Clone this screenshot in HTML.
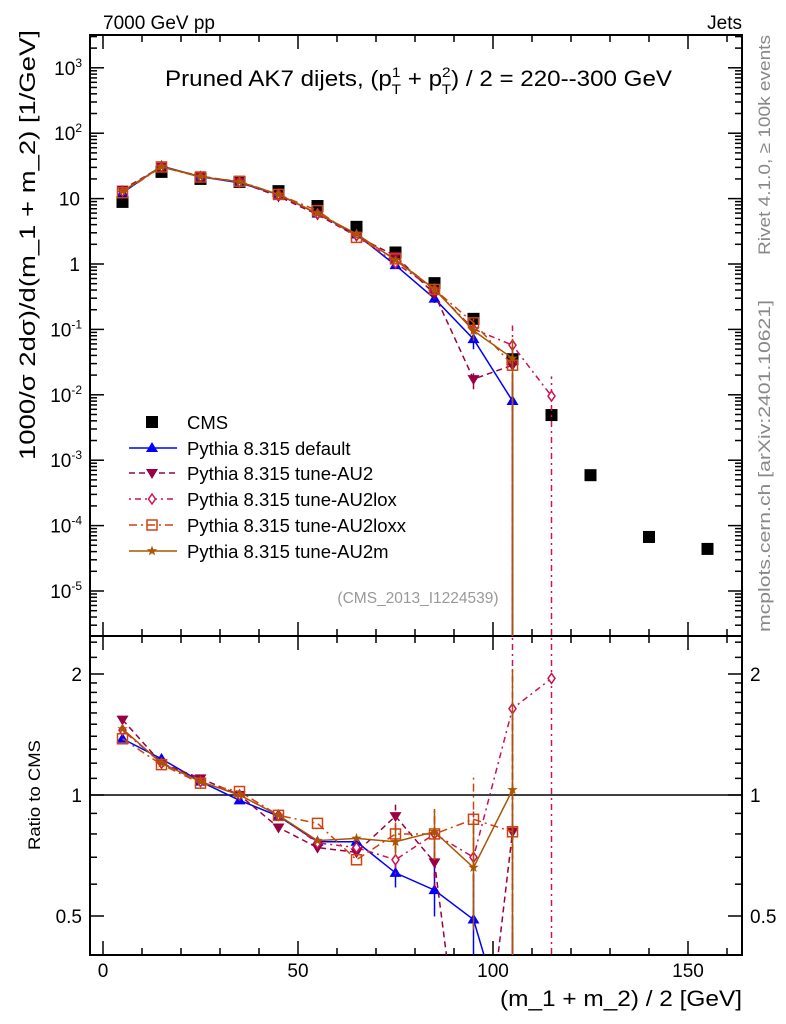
<!DOCTYPE html>
<html><head><meta charset="utf-8"><style>
html,body{margin:0;padding:0;background:#fff;width:786px;height:1024px;overflow:hidden;}
svg{display:block;font-family:"Liberation Sans",sans-serif;}
</style></head><body>
<svg id="c" width="786" height="1024" viewBox="0 0 786 1024" xmlns="http://www.w3.org/2000/svg">
<text x="103" y="29" font-size="19">7000 GeV pp</text>
<text x="742" y="29" font-size="19" text-anchor="end">Jets</text>
<text x="165" y="86" font-size="22" textLength="507" lengthAdjust="spacingAndGlyphs">Pruned AK7 dijets, (p<tspan font-size="14" dy="-9">1</tspan><tspan font-size="14" dx="-8" dy="17">T</tspan><tspan dy="-8"> + p</tspan><tspan font-size="14" dy="-9">2</tspan><tspan font-size="14" dx="-8" dy="17">T</tspan><tspan dy="-8">) / 2 = 220--300 GeV</tspan></text>
<text transform="translate(35,460) rotate(-90)" font-size="22" textLength="430" lengthAdjust="spacingAndGlyphs">1000/σ   2dσ)/d(m_1 + m_2) [1/GeV]</text>
<text transform="translate(40,850) rotate(-90)" font-size="17" textLength="110" lengthAdjust="spacingAndGlyphs">Ratio to CMS</text>
<text x="500" y="1006" font-size="22" textLength="242" lengthAdjust="spacingAndGlyphs">(m_1 + m_2) / 2 [GeV]</text>
<text transform="translate(770,255) rotate(-90)" font-size="17" fill="#888" textLength="220" lengthAdjust="spacingAndGlyphs">Rivet 4.1.0, ≥ 100k events</text>
<text transform="translate(770,632) rotate(-90)" font-size="17" fill="#888" textLength="332" lengthAdjust="spacingAndGlyphs">mcplots.cern.ch [arXiv:2401.10621]</text>
<text x="418" y="603" font-size="15.5" fill="#999" text-anchor="middle">(CMS_2013_I1224539)</text>
<g id="g"></g>
</svg>
<script>
const xs = [5,15,25,35,45,55,65,75,85,95,105,115,125,140,155];
const cms = [8.9,25.6,20,18,13,7.7,3.7,1.5,0.51,0.145,0.035,0.0049,0.00059,0.000067,0.000044];
const seriesNames = ["Pythia 8.315 default","Pythia 8.315 tune-AU2","Pythia 8.315 tune-AU2lox","Pythia 8.315 tune-AU2loxx","Pythia 8.315 tune-AU2m"];
const rDefault = [1.38,1.23,1.08,0.97,0.886,0.765,0.765,0.64,0.58,0.49,0.23];
const rAU2 = [1.54,1.2,1.10,1.0,0.83,0.74,0.72,0.886,0.68,0.12,0.81];
const rAU2lox = [1.45,1.2,1.08,1.0,0.89,0.76,0.74,0.69,0.80,0.70,1.64,1.95];
const rAU2loxx = [1.38,1.19,1.07,1.02,0.89,0.85,0.69,0.80,0.80,0.87,0.81];
const rAU2m = [1.46,1.2,1.08,1.0,0.89,0.77,0.78,0.765,0.81,0.66,1.03];
const relErr = [0.02,0.02,0.02,0.02,0.03,0.04,0.05,0.08,0.14,0.3,1.0,1.0];

const NS="http://www.w3.org/2000/svg";
const g=document.getElementById('g');
const L=90,R=742,T=35,MB=636,RB=955;
const X=v=>103+3.9*v;
const Ym=v=>264-65.4*Math.log10(v);
const Yr=v=>795-121*Math.log2(v);
function el(t,a,p){const e=document.createElementNS(NS,t);for(const k in a)e.setAttribute(k,a[k]);(p||g).appendChild(e);return e;}
const defs=el('defs',{});
const c1=el('clipPath',{id:'cm'},defs);el('rect',{x:L,y:T,width:R-L,height:MB-T},c1);
const c2=el('clipPath',{id:'cr'},defs);el('rect',{x:L,y:MB,width:R-L,height:RB-MB},c2);
let f=el('rect',{x:L,y:T,width:R-L,height:MB-T,fill:'none',stroke:'#000','stroke-width':2});


f=el('rect',{x:L,y:MB,width:R-L,height:RB-MB,fill:'none',stroke:'#000','stroke-width':2});


for(let v=0;v<=160;v+=10){const x=X(v);const len=v%50==0?14:7;
 for(const [y0,d] of [[T,1],[MB,-1],[MB,1],[RB,-1]]){el('line',{x1:x,x2:x,y1:y0,y2:y0+d*len,stroke:'#000','stroke-width':1.5});}
 if(v%50==0){const t=el('text',{x:x,y:977,'font-size':19,'text-anchor':'middle'});t.textContent=v;
 
 }}
const ylab=['10<tspan font-size="12" dy="-8">-5</tspan>','10<tspan font-size="12" dy="-8">-4</tspan>','10<tspan font-size="12" dy="-8">-3</tspan>','10<tspan font-size="12" dy="-8">-2</tspan>','10<tspan font-size="12" dy="-8">-1</tspan>','1','10','10<tspan font-size="12" dy="-8">2</tspan>','10<tspan font-size="12" dy="-8">3</tspan>'];
for(let e=-6;e<=3;e++){for(let m=1;m<10;m++){const v=m*Math.pow(10,e);const y=Ym(v);if(y<T||y>MB)continue;const len=m==1?14:7;
 el('line',{x1:L,x2:L+len,y1:y,y2:y,stroke:'#000','stroke-width':1.5});el('line',{x1:R,x2:R-len,y1:y,y2:y,stroke:'#000','stroke-width':1.5});
 if(m==1&&e>=-5){const t=el('text',{x:e>=0&&e<2?80:82,y:y+7,'font-size':19,'text-anchor':'end'});t.innerHTML=ylab[e+5];
 
 }}}
for(const v of [0.4,0.5,0.6,0.7,0.8,0.9,1,1.1,1.2,1.3,1.4,1.5,1.6,1.7,1.8,1.9,2,2.2,2.4]){const y=Yr(v);const maj=(v==0.5||v==1||v==2);const len=maj?14:7;
 el('line',{x1:L,x2:L+len,y1:y,y2:y,stroke:'#000','stroke-width':1.5});el('line',{x1:R,x2:R-len,y1:y,y2:y,stroke:'#000','stroke-width':1.5});
 if(maj){for(const [xx,an] of [[82,'end'],[750,'start']]){const t=el('text',{x:xx,y:y+7,'font-size':19,'text-anchor':an});t.textContent=v;
 
 }}}
el('line',{x1:L,x2:R,y1:Yr(1),y2:Yr(1),stroke:'#000','stroke-width':1.5});
const sty=[{c:'#0000ff',d:'',m:'tri'},{c:'#990044',d:'6,4',m:'tdn'},{c:'#cc1155',d:'2,4,6,4',m:'dia'},{c:'#cc4411',d:'8,4,2,4',m:'sq'},{c:'#aa5500',d:'',m:'star'}];
const ratios=[rDefault,rAU2,rAU2lox,rAU2loxx,rAU2m];
function marker(m,x,y,c,p){
 if(m=='tri')el('path',{d:`M${x},${y-6}L${x+6},${y+4}L${x-6},${y+4}Z`,fill:c},p);
 else if(m=='tdn')el('path',{d:`M${x},${y+6}L${x+6},${y-4}L${x-6},${y-4}Z`,fill:c},p);
 else if(m=='dia')el('path',{d:`M${x},${y-5}L${x+3.5},${y}L${x},${y+5}L${x-3.5},${y}Z`,fill:'#fff',stroke:c,'stroke-width':1.5},p);
 else if(m=='sq')el('rect',{x:x-5,y:y-5,width:10,height:10,fill:'none',stroke:c,'stroke-width':1.5},p);
 else if(m=='star'){let d='';for(let i=0;i<10;i++){const r=i%2?2.2:5.5,a=-Math.PI/2+i*Math.PI/5;d+=(i?'L':'M')+(x+r*Math.cos(a)).toFixed(1)+','+(y+r*Math.sin(a)).toFixed(1);}el('path',{d:d+'Z',fill:c},p);}
 else if(m=='cms')el('rect',{x:x-6,y:y-6,width:12,height:12,fill:'#000'},p);}
const gm=el('g',{'clip-path':'url(#cm)'});


xs.forEach((x,i)=>{marker('cms',X(x),Ym(cms[i]),'#000',gm);});
const gr=el('g',{'clip-path':'url(#cr)'});


ratios.forEach((r,s)=>{const st=sty[s];
 const gs=el('g',{},gm);
 
 
 const gq=el('g',{},gr);
 
 
 const pm=r.map((v,i)=>[X(xs[i]),Ym(v*cms[i])]);const pr=r.map((v,i)=>[X(xs[i]),Yr(v)]);
 el('polyline',{points:pm.join(' '),fill:'none',stroke:st.c,'stroke-width':1.5,'stroke-dasharray':st.d},gs);
 el('polyline',{points:pr.join(' '),fill:'none',stroke:st.c,'stroke-width':1.5,'stroke-dasharray':st.d},gq);
 r.forEach((v,i)=>{const e=relErr[i];const val=v*cms[i];
  const x=X(xs[i]);
  if(e>0.05){const ylo=e>=1?MB+5:Ym(val*(1-e));const rlo=e>=1?RB+5:Yr(v*(1-e));
   el('line',{x1:x,x2:x,y1:ylo,y2:Ym(val*(1+e)),stroke:st.c,'stroke-width':1.5,'stroke-dasharray':st.d},gs);
   el('line',{x1:x,x2:x,y1:rlo,y2:Yr(v*(1+e)),stroke:st.c,'stroke-width':1.5,'stroke-dasharray':st.d},gq);}
  marker(st.m,x,Ym(val),st.c,gs);marker(st.m,x,Yr(v),st.c,gq);});
});
const lg=el('g',{});


const ly=[422,448,473,499,525,551];
marker('cms',152,ly[0],'#000',lg);
let t=el('text',{x:187,y:ly[0]+7,'font-size':18.5},lg);t.textContent='CMS';
seriesNames.forEach((n,s)=>{const st=sty[s];const y=ly[s+1];
 el('line',{x1:129,x2:177,y1:y,y2:y,stroke:st.c,'stroke-width':1.5,'stroke-dasharray':st.d},lg);
 marker(st.m,152,y,st.c,lg);
 const tt=el('text',{x:187,y:y+7,'font-size':18.5},lg);tt.textContent=n;
 
 });
</script>
</body></html>
